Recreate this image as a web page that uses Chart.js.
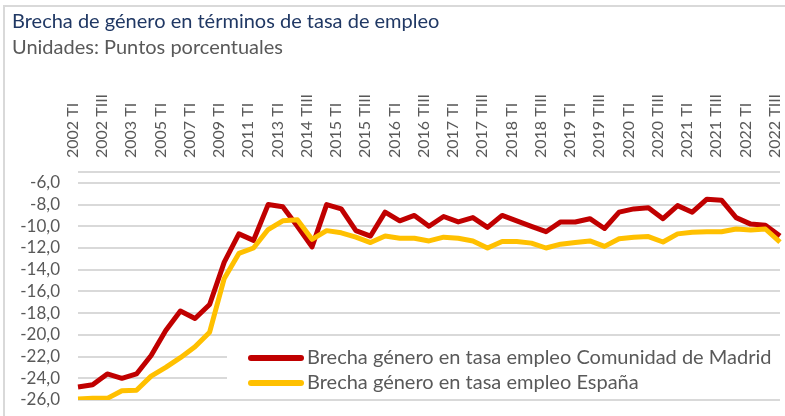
<!DOCTYPE html>
<html>
<head>
<meta charset="utf-8">
<script src="https://cdn.jsdelivr.net/npm/chart.js@4/dist/chart.umd.min.js"></script>
<style>
  html, body { margin: 0; padding: 0; background: #fff; overflow: hidden; }
  #wrap { position: relative; width: 785px; height: 416px; }
  #frame { position: absolute; left: 3px; top: 5px; width: 820px; height: 440px; border: 2px solid #d9d9d9; pointer-events: none; }
</style>
</head>
<body>
<div id="wrap">
  <canvas id="chart"></canvas>
  <div id="frame"></div>
</div>
<script>
// periodos (solo se rotula uno de cada dos)
const categories = [
  '2002 TI', '2002 TII', '2002 TIII', '2002 TIV', '2003 TI', '2004 TI', '2005 TI', '2006 TI',
  '2007 TI', '2008 TI', '2009 TI', '2010 TI', '2011 TI', '2012 TI', '2013 TI', '2014 TI',
  '2014 TIII', '2014 TIV', '2015 TI', '2015 TII', '2015 TIII', '2015 TIV',
  '2016 TI', '2016 TII', '2016 TIII', '2016 TIV', '2017 TI', '2017 TII', '2017 TIII', '2017 TIV',
  '2018 TI', '2018 TII', '2018 TIII', '2018 TIV', '2019 TI', '2019 TII', '2019 TIII', '2019 TIV',
  '2020 TI', '2020 TII', '2020 TIII', '2020 TIV', '2021 TI', '2021 TII', '2021 TIII', '2021 TIV',
  '2022 TI', '2022 TII', '2022 TIII'
];

const madrid = [
  -24.8, -24.6, -23.6, -24.0, -23.6, -21.9, -19.6, -17.8, -18.5, -17.2,
  -13.3, -10.7, -11.3, -8.0, -8.2, -10.0, -11.9, -8.0, -8.4, -10.4,
  -10.9, -8.7, -9.5, -9.0, -10.0, -9.1, -9.6, -9.2, -10.1, -9.0,
  -9.5, -10.0, -10.5, -9.6, -9.6, -9.3, -10.2, -8.7, -8.4, -8.3,
  -9.3, -8.1, -8.7, -7.5, -7.6, -9.2, -9.8, -9.9, -10.9
];

const espana = [
  -25.9, -25.85, -25.85, -25.15, -25.1, -23.8, -23.0, -22.1, -21.1, -19.75,
  -14.8, -12.5, -12.0, -10.3, -9.5, -9.4, -11.2, -10.4, -10.6, -11.0,
  -11.5, -10.9, -11.1, -11.1, -11.35, -11.0, -11.1, -11.35, -12.0, -11.4,
  -11.4, -11.55, -12.0, -11.65, -11.5, -11.35, -11.85, -11.15, -11.0, -10.95,
  -11.45, -10.7, -10.55, -10.5, -10.5, -10.25, -10.35, -10.25, -11.45
];

const seriesNames = [
  'Brecha género en tasa empleo Comunidad de Madrid',
  'Brecha género en tasa empleo España'
];
const seriesColors = ['#C00000', '#FFC000'];

const yTickValues = [-26, -24, -22, -20, -18, -16, -14, -12, -10, -8, -6];
const yMin = -26;
const yMax = -5;

const FONT = 'Lato, "Open Sans", sans-serif';
const GREY = '#595959';
const GRID = '#D9D9D9';

function fmt(v) {
  return v.toFixed(1).replace('.', ',');
}

// leyenda superpuesta dentro del area del grafico, como en Excel
const overlayLegend = {
  id: 'overlayLegend',
  afterDraw(chart) {
    const ctx = chart.ctx;
    const area = chart.chartArea;
    const x0 = area.left + 149;
    const top = area.top + 170;
    ctx.save();
    ctx.fillStyle = '#fff';
    ctx.fillRect(x0, top, area.right - x0 + 2, 55);
    ctx.font = '20px ' + FONT;
    ctx.textBaseline = 'middle';
    chart.data.datasets.forEach((ds, i) => {
      const y = top + 16 + i * 25;
      ctx.strokeStyle = ds.borderColor;
      ctx.lineWidth = 6;
      ctx.lineCap = 'round';
      ctx.beginPath();
      ctx.moveTo(x0 + 24, y);
      ctx.lineTo(x0 + 74, y);
      ctx.stroke();
      ctx.fillStyle = GREY;
      ctx.fillText(ds.label, x0 + 80, y);
    });
    ctx.restore();
  }
};

const chart = new Chart(document.getElementById('chart'), {
  type: 'line',
  data: {
    labels: categories,
    datasets: [
      { label: seriesNames[0], data: madrid, borderColor: seriesColors[0], backgroundColor: seriesColors[0], order: 1 },
      { label: seriesNames[1], data: espana, borderColor: seriesColors[1], backgroundColor: seriesColors[1], order: 0 }
    ]
  },
  options: {
    responsive: true,
    maintainAspectRatio: false,
    animation: false,
    layout: { padding: { left: 12, right: 5, top: 0, bottom: 16 } },
    elements: {
      line: { borderWidth: 5, tension: 0, borderJoinStyle: 'round' },
      point: { radius: 0, hoverRadius: 0 }
    },
    plugins: {
      legend: { display: false },
      tooltip: { enabled: false },
      title: {
        display: true,
        text: 'Brecha de género en términos de tasa de empleo',
        align: 'start',
        color: '#203864',
        font: { family: FONT, size: 20, weight: 'normal' },
        padding: { top: 10, bottom: 0 }
      },
      subtitle: {
        display: true,
        text: 'Unidades: Puntos porcentuales',
        align: 'start',
        color: GREY,
        font: { family: FONT, size: 20, weight: 'normal' },
        padding: { top: 2, bottom: 22 }
      }
    },
    scales: {
      x: {
        position: 'top',
        offset: false,
        grid: { display: false, drawTicks: false },
        border: { display: false },
        afterFit: (scale) => {
          scale.height = 90;
          scale.paddingLeft = 0;
          scale.paddingRight = 0;
        },
        ticks: {
          autoSkip: false,
          maxRotation: 90,
          minRotation: 90,
          padding: 14,
          labelOffset: 14,
          color: GREY,
          font: { family: FONT, size: 16 },
          callback: (v, i) => (i % 2 === 0 ? categories[i] : '')
        }
      },
      y: {
        min: yMin,
        max: yMax,
        afterBuildTicks: (scale) => {
          scale.ticks = yTickValues.concat([yMax]).map(v => ({ value: v }));
        },
        afterFit: (scale) => {
          scale.width = 66;
          scale.paddingTop = 0;
          scale.paddingBottom = 0;
        },
        border: { display: false },
        grid: { color: GRID, lineWidth: 2, drawTicks: false },
        ticks: {
          autoSkip: false,
          padding: 18,
          color: GREY,
          font: { family: FONT, size: 17 },
          callback: (v) => (v === yMax ? '' : fmt(v))
        }
      }
    }
  },
  plugins: [overlayLegend]
});
</script>
</body>
</html>
